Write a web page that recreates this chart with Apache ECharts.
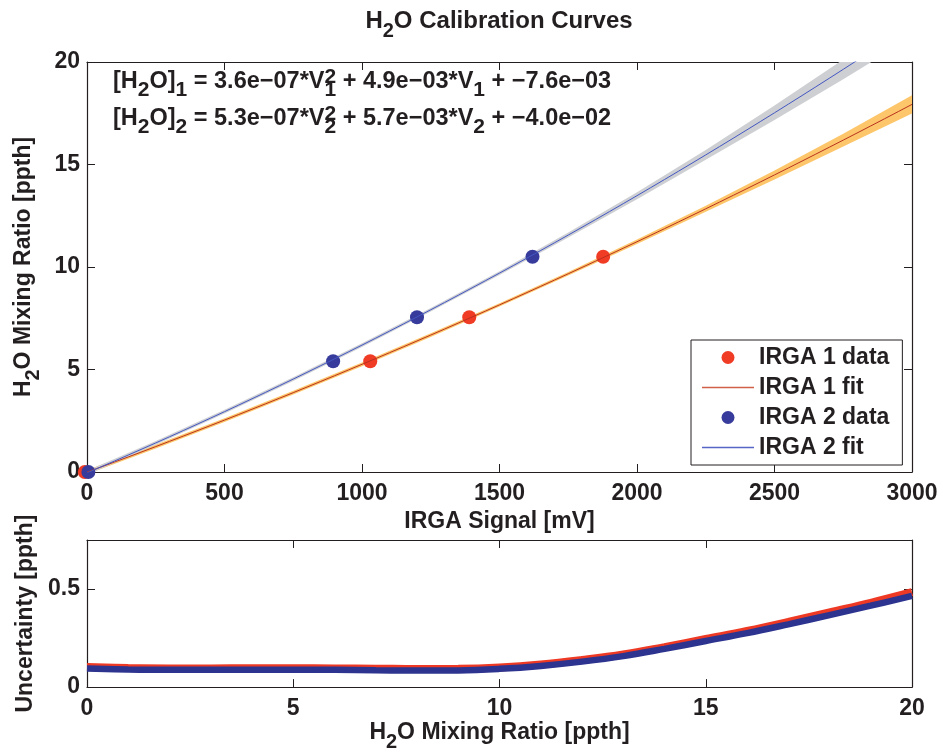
<!DOCTYPE html>
<html>
<head>
<meta charset="utf-8">
<script src="https://cdn.jsdelivr.net/npm/echarts@6/dist/echarts.min.js"></script>
<style>
  html, body { margin: 0; padding: 0; background: #fff; }
  #chart { width: 943px; height: 753px; }
</style>
</head>
<body>
<div id="chart"></div>
<script>
// Quadratic calibration coefficients [a, b, c]: [H2O] = a*V^2 + b*V + c
const fitCoef1 = [3.6e-7, 4.9e-3, -7.6e-3];
const fitCoef2 = [5.3e-7, 5.7e-3, -4.0e-2];

// Calibration points: IRGA signal (mV) and reference mixing ratio (ppth)
const irga1Signal = [-8, 1030, 1390, 1877];
const irga1Ratio  = [0, 5.4, 7.55, 10.5];
const irga2Signal = [5, 895, 1200, 1620];
const irga2Ratio  = [0, 5.4, 7.55, 10.5];

// Confidence band half-widths (ppth) around each fit, at these signals (mV)
const bandSignal = [0, 250, 500, 750, 1000, 1250, 1500, 1750, 2000, 2250, 2500, 2750, 3000];
const band1Half  = [0.10, 0.09, 0.09, 0.09, 0.09, 0.09, 0.085, 0.09, 0.11, 0.15, 0.22, 0.31, 0.44];
const band2Half  = [0.10, 0.09, 0.09, 0.09, 0.09, 0.085, 0.09, 0.12, 0.17, 0.24, 0.35, 0.48, 0.62];

// Signal levels at which the fitted curves are drawn (mV)
const fitSignal = [0, 50, 100, 150, 200, 250, 300, 350, 400, 450, 500, 550, 600, 650, 700, 750,
  800, 850, 900, 950, 1000, 1050, 1100, 1150, 1200, 1250, 1300, 1350, 1400, 1450, 1500, 1550,
  1600, 1650, 1700, 1750, 1800, 1850, 1900, 1950, 2000, 2050, 2100, 2150, 2200, 2250, 2300,
  2350, 2400, 2450, 2500, 2550, 2600, 2650, 2700, 2750, 2800, 2850, 2900, 2950, 3000];

// Uncertainty (ppth) versus mixing ratio (ppth)
const uncRatio = [0, 1, 2, 3, 4, 5, 6, 7, 8, 9, 10, 11, 12, 13, 14, 15, 16, 17, 18, 19, 20];
const unc1 = [0.102, 0.097, 0.095, 0.095, 0.096, 0.096, 0.095, 0.094, 0.092, 0.093, 0.100,
  0.115, 0.138, 0.166, 0.204, 0.245, 0.286, 0.332, 0.381, 0.430, 0.484];
const unc2 = [0.095, 0.090, 0.088, 0.088, 0.089, 0.089, 0.088, 0.086, 0.084, 0.085, 0.093,
  0.108, 0.130, 0.158, 0.195, 0.235, 0.275, 0.320, 0.367, 0.415, 0.465];

const FONT = '"Liberation Sans", Arial, Helvetica, sans-serif';
const INK = '#231f20';

function poly(c, v) { return c[0] * v * v + c[1] * v + c[2]; }

// Text with sub/superscripts laid out piece by piece
const mctx = document.createElement('canvas').getContext('2d');
function measure(t, fs) { mctx.font = 'bold ' + fs + 'px ' + FONT; return mctx.measureText(t).width; }
function scriptedText(parts, x0, baseline, fs, sfs, align) {
  const items = [];
  let x = 0;
  parts.forEach(function (p) {
    if (p.t !== undefined) {
      items.push({ t: p.t, x: x, dy: 0, fs: fs });
      x += measure(p.t, fs);
    } else {
      let adv = 0;
      if (p.sup) { items.push({ t: p.sup, x: x, dy: -5, fs: sfs }); adv = Math.max(adv, measure(p.sup, sfs)); }
      if (p.sub) { items.push({ t: p.sub, x: x, dy: 8.5, fs: sfs }); adv = Math.max(adv, measure(p.sub, sfs)); }
      x += adv;
    }
  });
  const start = align === 'center' ? x0 - x / 2 : x0;
  return items.map(function (it) {
    return {
      type: 'text', silent: true, z: 10,
      x: start + it.x, y: baseline + it.dy - 0.35 * it.fs,
      style: { text: it.t, fontSize: it.fs, fontWeight: 'bold', fontFamily: FONT, fill: INK, verticalAlign: 'middle' }
    };
  });
}

const titleParts = [{ t: 'H' }, { sub: '2' }, { t: 'O Calibration Curves' }];
const eq1Parts = [{ t: '[H' }, { sub: '2' }, { t: 'O]' }, { sub: '1' }, { t: ' = 3.6e\u221207*V' },
  { sup: '2', sub: '1' }, { t: ' + 4.9e\u221203*V' }, { sub: '1' }, { t: ' + \u22127.6e\u221203' }];
const eq2Parts = [{ t: '[H' }, { sub: '2' }, { t: 'O]' }, { sub: '2' }, { t: ' = 5.3e\u221207*V' },
  { sup: '2', sub: '2' }, { t: ' + 5.7e\u221203*V' }, { sub: '2' }, { t: ' + \u22124.0e\u221202' }];

const graphics = []
  .concat(scriptedText(titleParts, 499, 30, 24, 20, 'center'))
  .concat(scriptedText(eq1Parts, 113, 89.5, 23.5, 21, 'left'))
  .concat(scriptedText(eq2Parts, 113, 126.5, 23.5, 21, 'left'));

const richName = {
  b: { fontSize: 23, fontWeight: 'bold', fontFamily: FONT, color: INK, verticalAlign: 'top' },
  s: { fontSize: 20, fontWeight: 'bold', fontFamily: FONT, color: INK, verticalAlign: 'top', padding: [11, 0, 0, 0] }
};
const labelStyle = { fontSize: 23, fontWeight: 'bold', fontFamily: FONT, color: INK };
const lineStyle = { color: INK, width: 1.2 };
const tickStyle = { show: true, inside: true, length: 8, lineStyle: { color: INK, width: 1 } };
const plainNumber = function (v) { return String(v); };

function mainAxis(extra) {
  return Object.assign({
    type: 'value',
    axisLine: { show: true, onZero: false, lineStyle: lineStyle },
    axisTick: tickStyle,
    splitLine: { show: false },
    axisLabel: Object.assign({ margin: 10, formatter: plainNumber }, labelStyle)
  }, extra);
}
function mirrorAxis(extra) {
  return Object.assign({
    type: 'value',
    axisLine: { show: true, onZero: false, lineStyle: lineStyle },
    axisTick: tickStyle,
    splitLine: { show: false },
    axisLabel: { show: false }
  }, extra);
}

function bandRenderer(coef, half, fill) {
  return function (params, api) {
    const up = [], lo = [];
    bandSignal.forEach(function (v, i) {
      const y = poly(coef, v);
      up.push(api.coord([v, y + half[i]]));
      lo.push(api.coord([v, y - half[i]]));
    });
    return { type: 'polygon', shape: { points: up.concat(lo.reverse()) }, style: { fill: fill } };
  };
}

// Legend glyph for the fitted curves: a plain thin line
const lineIcon = 'path://M0,0L52,0L52,1.3L0,1.3Z';

const chart = echarts.init(document.getElementById('chart'), null, { renderer: 'canvas' });
chart.setOption({
  backgroundColor: '#fff',
  animation: false,
  graphic: graphics,
  grid: [
    { left: 87, top: 62, width: 825, height: 410 },
    { left: 87, top: 540, width: 825, height: 150 }
  ],
  xAxis: [
    mainAxis({ gridIndex: 0, position: 'bottom', min: 0, max: 3000, interval: 500,
      name: 'IRGA Signal [mV]', nameLocation: 'middle', nameGap: 36,
      nameTextStyle: labelStyle }),
    mirrorAxis({ gridIndex: 0, position: 'top', min: 0, max: 3000, interval: 500 }),
    mainAxis({ gridIndex: 1, position: 'bottom', min: 0, max: 20, interval: 5,
      name: '{b|H}{s|2}{b|O Mixing Ratio [ppth]}', nameLocation: 'middle', nameGap: 29,
      nameTextStyle: { rich: richName } }),
    mirrorAxis({ gridIndex: 1, position: 'top', min: 0, max: 20, interval: 5 })
  ],
  yAxis: [
    mainAxis({ gridIndex: 0, position: 'left', min: 0, max: 20, interval: 5,
      axisLabel: Object.assign({ margin: 7, formatter: plainNumber }, labelStyle),
      name: '{b|H}{s|2}{b|O Mixing Ratio [ppth]}', nameLocation: 'middle', nameGap: 43,
      nameTextStyle: { rich: richName } }),
    mirrorAxis({ gridIndex: 0, position: 'right', min: 0, max: 20, interval: 5 }),
    mainAxis({ gridIndex: 1, position: 'left', min: 0, max: 0.75, interval: 0.5,
      axisLabel: Object.assign({ margin: 7, showMaxLabel: false, formatter: plainNumber }, labelStyle),
      name: 'Uncertainty [ppth]', nameLocation: 'middle', nameGap: 50,
      nameTextStyle: labelStyle }),
    mirrorAxis({ gridIndex: 1, position: 'right', min: 0, max: 0.75, interval: 0.5 })
  ],
  legend: {
    orient: 'vertical', left: 691, top: 340,
    data: [
      { name: 'IRGA 1 data' },
      { name: 'IRGA 1 fit', icon: lineIcon },
      { name: 'IRGA 2 data' },
      { name: 'IRGA 2 fit', icon: lineIcon }
    ],
    symbolKeepAspect: true,
    backgroundColor: '#fff', borderColor: INK, borderWidth: 1,
    padding: [6, 13, 6, 11], itemGap: 7, itemWidth: 52, itemHeight: 13, itemTextGap: 7,
    textStyle: { fontSize: 23, fontWeight: 'bold', fontFamily: FONT, color: INK, lineHeight: 22 },
    selectedMode: false
  },
  series: [
    { type: 'custom', name: 'band 1', xAxisIndex: 0, yAxisIndex: 0, clip: true, silent: true,
      renderItem: bandRenderer(fitCoef1, band1Half, '#fdc66a'), data: [[0, 0]], encode: { x: 0, y: 1 } },
    { type: 'custom', name: 'band 2', xAxisIndex: 0, yAxisIndex: 0, clip: true, silent: true,
      renderItem: bandRenderer(fitCoef2, band2Half, '#cdcfd3'), data: [[0, 0]], encode: { x: 0, y: 1 } },
    { type: 'line', name: 'IRGA 1 fit', xAxisIndex: 0, yAxisIndex: 0, symbol: 'none', clip: true,
      lineStyle: { color: '#b8321f', width: 1 }, itemStyle: { color: '#d0604a' },
      data: fitSignal.map(function (v) { return [v, poly(fitCoef1, v)]; }) },
    { type: 'line', name: 'IRGA 2 fit', xAxisIndex: 0, yAxisIndex: 0, symbol: 'none', clip: true,
      lineStyle: { color: '#4457c0', width: 1 }, itemStyle: { color: '#5566c4' },
      data: fitSignal.map(function (v) { return [v, poly(fitCoef2, v)]; }) },
    { type: 'scatter', name: 'IRGA 1 data', xAxisIndex: 0, yAxisIndex: 0, clip: false,
      symbol: 'circle', symbolSize: 14, itemStyle: { color: '#f03b25', opacity: 1 },
      data: irga1Signal.map(function (v, i) { return [v, irga1Ratio[i]]; }) },
    { type: 'scatter', name: 'IRGA 2 data', xAxisIndex: 0, yAxisIndex: 0, clip: false,
      symbol: 'circle', symbolSize: 14, itemStyle: { color: '#373b9b', opacity: 1 },
      data: irga2Signal.map(function (v, i) { return [v, irga2Ratio[i]]; }) },
    { type: 'line', name: 'uncertainty 1', xAxisIndex: 2, yAxisIndex: 2, symbol: 'none', smooth: 0.4,
      lineStyle: { color: '#ee3a24', width: 8 },
      data: uncRatio.map(function (r, i) { return [r, unc1[i]]; }) },
    { type: 'line', name: 'uncertainty 2', xAxisIndex: 2, yAxisIndex: 2, symbol: 'none', smooth: 0.4,
      lineStyle: { color: '#2d348f', width: 6.5 },
      data: uncRatio.map(function (r, i) { return [r, unc2[i]]; }) }
  ]
});
</script>
</body>
</html>
